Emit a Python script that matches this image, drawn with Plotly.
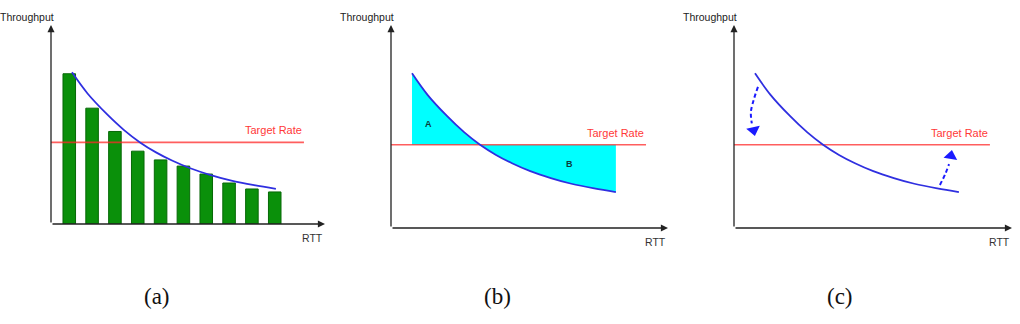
import plotly.graph_objects as go

# ---- data ----
bar_rtt = [0.8, 1.8, 2.8, 3.8, 4.8, 5.8, 6.8, 7.8, 8.8, 9.8]
bar_throughput = [7.55, 5.82, 4.65, 3.66, 3.22, 2.91, 2.51, 2.06, 1.76, 1.61]

curve_rtt = [0.92, 1.6, 2.45, 3.2, 3.9, 4.6, 5.3, 6.1, 7.0, 7.9, 8.9, 9.85]
curve_throughput = [7.62, 6.56, 5.52, 4.72, 4.1, 3.6, 3.19, 2.8, 2.46, 2.18, 1.95, 1.77]

target_rate = 4.1
target_end = [11.08, 11.17, 11.21]

# dashed adjustment arrows in panel (c)
down_arrow_rtt = [1.05, 0.86, 0.74, 0.78]
down_arrow_thr = [6.95, 6.3, 5.71, 5.15]
up_arrow_rtt = [9.02, 9.25, 9.42]
up_arrow_thr = [2.12, 2.65, 3.15]

captions = ["(a)", "(b)", "(c)"]

# ---- layout geometry (pixels) ----
W, H = 1020, 324
panels = [  # origin x, right end x, bottom y, top y
    (51, 325, 224, 25),
    (391, 668, 228, 25),
    (734, 1012, 228, 25),
]
PX_PER_X = 22.83
Y_TOP = 10

RED = "rgba(255,40,40,0.75)"
BLUE = "#2f2fe0"
GREEN = "#0a900a"

fig = go.Figure()
ax_names = [("x", "y"), ("x2", "y2"), ("x3", "y3")]

layout_axes = {}
annotations = []
for i, (x0, x1, yb, yt) in enumerate(panels):
    xr = (x1 - x0) / PX_PER_X
    suffix = "" if i == 0 else str(i + 1)
    layout_axes["xaxis" + suffix] = dict(
        domain=[x0 / W, x1 / W], range=[0, xr], visible=False,
        anchor="y" + suffix, fixedrange=True)
    layout_axes["yaxis" + suffix] = dict(
        domain=[(H - yb) / H, (H - yt) / H], range=[0, Y_TOP], visible=False,
        anchor="x" + suffix, fixedrange=True)
    xa, ya = ax_names[i]
    # axis arrows
    for (tx, ty) in [(xr, 0), (0, Y_TOP)]:
        annotations.append(dict(
            x=tx, y=ty, ax=0, ay=0, xref=xa, yref=ya, axref=xa, ayref=ya,
            text="", showarrow=True, arrowhead=2, arrowsize=1.1,
            arrowwidth=1.3, arrowcolor="#222"))
    # axis titles
    annotations.append(dict(
        x=0, y=Y_TOP, xref=xa, yref=ya, text="Throughput", showarrow=False,
        xanchor="right", yanchor="middle", xshift=5, yshift=8,
        font=dict(family="Liberation Sans", size=10.5, color="#222")))
    annotations.append(dict(
        x=xr, y=0, xref=xa, yref=ya, text="RTT", showarrow=False,
        xanchor="right", yanchor="middle", yshift=-14,
        font=dict(family="Liberation Sans", size=10.5, color="#333")))
    annotations.append(dict(
        x=target_end[i], y=target_rate, xref=xa, yref=ya, text="Target Rate",
        showarrow=False, xanchor="right", yanchor="middle", yshift=12,
        font=dict(family="Liberation Sans", size=11, color="#ff3838")))
    # caption
    annotations.append(dict(
        x=(x0 + 106) / W, y=(H - 296) / H, xref="paper", yref="paper",
        text=captions[i], showarrow=False, xanchor="center", yanchor="middle",
        font=dict(family="Liberation Serif", size=23, color="#111")))

# ---- panel (b) filled area between curve and target ----
fill_x = [curve_rtt[0]] + curve_rtt + [curve_rtt[-1], curve_rtt[0]]
fill_y = [target_rate] + curve_throughput + [target_rate, target_rate]
fig.add_trace(go.Scatter(x=fill_x, y=fill_y, xaxis="x2", yaxis="y2",
                         mode="lines", fill="toself", fillcolor="#00ffff",
                         line=dict(width=0), hoverinfo="skip"))

# ---- panel (a) bars ----
fig.add_trace(go.Bar(x=bar_rtt, y=bar_throughput, xaxis="x", yaxis="y",
                     width=0.55, marker=dict(color=GREEN,
                                             line=dict(color="#066806", width=1))))

# ---- target lines and curves ----
for i, (xa, ya) in enumerate(ax_names):
    fig.add_trace(go.Scatter(x=[0, target_end[i]], y=[target_rate, target_rate],
                             xaxis=xa, yaxis=ya, mode="lines",
                             line=dict(color=RED, width=1.6)))
    fig.add_trace(go.Scatter(x=curve_rtt, y=curve_throughput, xaxis=xa, yaxis=ya,
                             mode="lines", line=dict(color=BLUE, width=1.8,
                                                     shape="spline")))

annotations.append(dict(x=1.66, y=5.12, xref="x2", yref="y2", text="<b>A</b>",
                        showarrow=False, font=dict(family="Liberation Sans",
                                                   size=9, color="#0b3b3b")))
annotations.append(dict(x=7.8, y=3.15, xref="x2", yref="y2", text="<b>B</b>",
                        showarrow=False, font=dict(family="Liberation Sans",
                                                   size=9, color="#0b3b3b")))

# ---- panel (c) dashed arrows ----
fig.add_trace(go.Scatter(x=down_arrow_rtt, y=down_arrow_thr, xaxis="x3", yaxis="y3",
                         mode="lines", line=dict(color="#1a1aff", width=2,
                                                 dash="4px,3px", shape="spline")))
fig.add_trace(go.Scatter(x=[0.86], y=[4.82], xaxis="x3", yaxis="y3", mode="markers",
                         marker=dict(symbol="triangle-down", size=12, angle=-12,
                                     color="#1a1aff")))
fig.add_trace(go.Scatter(x=up_arrow_rtt, y=up_arrow_thr, xaxis="x3", yaxis="y3",
                         mode="lines", line=dict(color="#1a1aff", width=2,
                                                 dash="4px,3px", shape="spline")))
fig.add_trace(go.Scatter(x=[9.5], y=[3.55], xaxis="x3", yaxis="y3", mode="markers",
                         marker=dict(symbol="triangle-up", size=12, angle=10,
                                     color="#1a1aff")))

fig.update_layout(
    width=W, height=H, margin=dict(l=0, r=0, t=0, b=0),
    paper_bgcolor="white", plot_bgcolor="white", showlegend=False,
    annotations=annotations, **layout_axes)

fig.write_html("out.html")
